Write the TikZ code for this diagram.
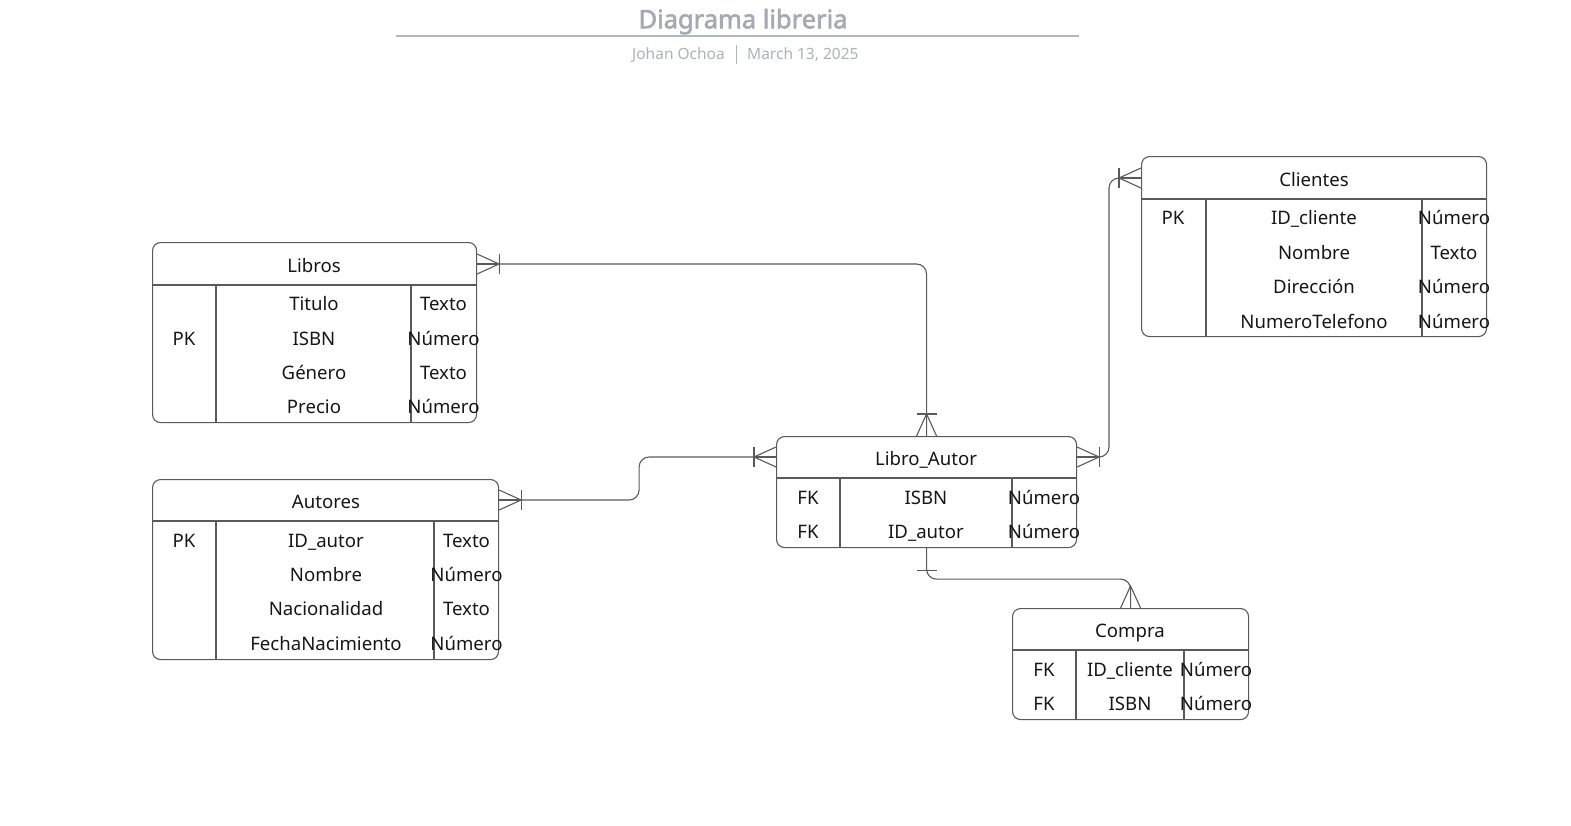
\documentclass[tikz,border=0pt]{standalone}
\usepackage{fontspec}
\setmainfont{Noto Sans}[AutoFakeBold=2.2]
\usetikzlibrary{calc}
\definecolor{ln}{HTML}{5A5A5A}
\definecolor{tx}{HTML}{161616}
\definecolor{ttl}{HTML}{A4A9B3}
\definecolor{sub}{HTML}{ADB1B9}
\tikzset{
  ent/.style={draw=ln, line width=1.1pt, rounded corners=8pt, inner sep=0pt, anchor=north west},
  sep/.style={draw=ln, line width=1.1pt},
  conn/.style={draw=ln, line width=1.1pt},
  txt/.style={text=tx, font=\fontsize{18.6}{20}\selectfont, inner sep=0pt, text height=13.4pt, text depth=0pt, yshift=-1.6pt},
  pics/manybar/.style={code={\draw[conn] (0,-10)--(22,0)--(0,10); \draw[conn] (0,0)--(22,0); \draw[conn] (22,-10)--(22,10);}},
  pics/many/.style={code={\draw[conn] (0,-10)--(22,0)--(0,10); \draw[conn] (0,0)--(22,0);}},
  pics/onebar/.style={code={\draw[conn] (22,-10)--(22,10);}}
}
\begin{document}
\begin{tikzpicture}[x=1pt,y=-1pt]
\useasboundingbox (0,0) rectangle (1571,825);
% title
\node[text=ttl, font=\bfseries\fontsize{25.5}{28}\selectfont, inner sep=0pt, text height=18.5pt, text depth=0pt] (title) at (743,19) {Diagrama libreria};
\draw[draw=ttl!85, line width=2.5pt] (396,36) -- (1079,36);
\node[text=sub, font=\fontsize{15.5}{17}\selectfont, inner sep=0pt, anchor=east, text height=11pt, text depth=0pt] (author) at (725,54) {Johan Ochoa};
\node[text=sub, font=\fontsize{15.5}{17}\selectfont, inner sep=0pt, anchor=west, text height=11pt, text depth=0pt] (date) at (747,54) {March 13, 2025};
\draw[draw=sub, line width=1pt] (736,45) -- (736,64);

% Libros
\node[ent, minimum width=324, minimum height=180] (libros) at (152,242) {};
\draw[sep] (152,285) -- (476,285);
\draw[sep] (216,285) -- (216,422);
\draw[sep] (411,285) -- (411,422);
\node[txt] (lib-h) at (314,264) {Libros};
\node[txt] (lib-pk) at (184,337) {PK};
\node[txt] (lib-n1) at (314,302) {Titulo};
\node[txt] (lib-n2) at (314,337) {ISBN};
\node[txt] (lib-n3) at (314,371) {Género};
\node[txt] (lib-n4) at (314,405) {Precio};
\node[txt] (lib-t1) at (443.5,302) {Texto};
\node[txt] (lib-t2) at (443.5,337) {Número};
\node[txt] (lib-t3) at (443.5,371) {Texto};
\node[txt] (lib-t4) at (443.5,405) {Número};

% Autores
\node[ent, minimum width=346, minimum height=180] (autores) at (152,479) {};
\draw[sep] (152,521) -- (498,521);
\draw[sep] (216,521) -- (216,659);
\draw[sep] (434,521) -- (434,659);
\node[txt] (aut-h) at (326,500) {Autores};
\node[txt] (aut-pk) at (184,539) {PK};
\node[txt] (aut-n1) at (326,539) {ID\_autor};
\node[txt] (aut-n2) at (326,573) {Nombre};
\node[txt] (aut-n3) at (326,607) {Nacionalidad};
\node[txt] (aut-n4) at (326,642) {FechaNacimiento};
\node[txt] (aut-t1) at (466.5,539) {Texto};
\node[txt] (aut-t2) at (466.5,573) {Número};
\node[txt] (aut-t3) at (466.5,607) {Texto};
\node[txt] (aut-t4) at (466.5,642) {Número};

% Clientes
\node[ent, minimum width=345, minimum height=180] (clientes) at (1141,156) {};
\draw[sep] (1141,199) -- (1486,199);
\draw[sep] (1206,199) -- (1206,336);
\draw[sep] (1422,199) -- (1422,336);
\node[txt] (cli-h) at (1314,178) {Clientes};
\node[txt] (cli-pk) at (1173,216) {PK};
\node[txt] (cli-n1) at (1314,216) {ID\_cliente};
\node[txt] (cli-n2) at (1314,251) {Nombre};
\node[txt] (cli-n3) at (1314,285) {Dirección};
\node[txt] (cli-n4) at (1314,320) {NumeroTelefono};
\node[txt] (cli-t1) at (1454,216) {Número};
\node[txt] (cli-t2) at (1454,251) {Texto};
\node[txt] (cli-t3) at (1454,285) {Número};
\node[txt] (cli-t4) at (1454,320) {Número};

% Libro_Autor
\node[ent, minimum width=300, minimum height=111] (la) at (776,436) {};
\draw[sep] (776,478) -- (1076,478);
\draw[sep] (840,478) -- (840,547);
\draw[sep] (1012,478) -- (1012,547);
\node[txt] (la-h) at (926,457) {Libro\_Autor};
\node[txt] (la-k1) at (808,496) {FK};
\node[txt] (la-k2) at (808,530) {FK};
\node[txt] (la-n1) at (926,496) {ISBN};
\node[txt] (la-n2) at (926,530) {ID\_autor};
\node[txt] (la-t1) at (1044,496) {Número};
\node[txt] (la-t2) at (1044,530) {Número};

% Compra
\node[ent, minimum width=236, minimum height=111] (compra) at (1012,608) {};
\draw[sep] (1012,650) -- (1248,650);
\draw[sep] (1076,650) -- (1076,719);
\draw[sep] (1184,650) -- (1184,719);
\node[txt] (co-h) at (1130,629) {Compra};
\node[txt] (co-k1) at (1044,668) {FK};
\node[txt] (co-k2) at (1044,702) {FK};
\node[txt] (co-n1) at (1130,668) {ID\_cliente};
\node[txt] (co-n2) at (1130,702) {ISBN};
\node[txt] (co-t1) at (1216,668) {Número};
\node[txt] (co-t2) at (1216,702) {Número};

% connector end points (at header rows)
\coordinate (lib-r) at (libros.north east |- 0,264);
\coordinate (aut-r) at (autores.north east |- 0,500);
\coordinate (cli-l) at (clientes.north west |- 0,178);
\coordinate (la-l) at (la.north west |- 0,457);
\coordinate (la-r) at (la.north east |- 0,457);

% connectors
\draw[conn, rounded corners=10pt] (lib-r) -| (la.north);
\draw[conn, rounded corners=10pt] (aut-r) -- ++(140,0) |- (la-l);
\draw[conn, rounded corners=10pt] (cli-l) -- ++(-32,0) |- (la-r);
\draw[conn, rounded corners=10pt] (la.south) |- ++(204,31) -- (compra.north);

% crow's feet
\pic at (lib-r) {manybar};
\pic[rotate=90] at (la.north) {manybar};
\pic at (aut-r) {manybar};
\pic[rotate=180] at (la-l) {manybar};
\pic[rotate=180] at (cli-l) {manybar};
\pic at (la-r) {manybar};
\pic[rotate=-90] at (la.south) {onebar};
\pic[rotate=90] at (compra.north) {many};
\end{tikzpicture}
\end{document}
